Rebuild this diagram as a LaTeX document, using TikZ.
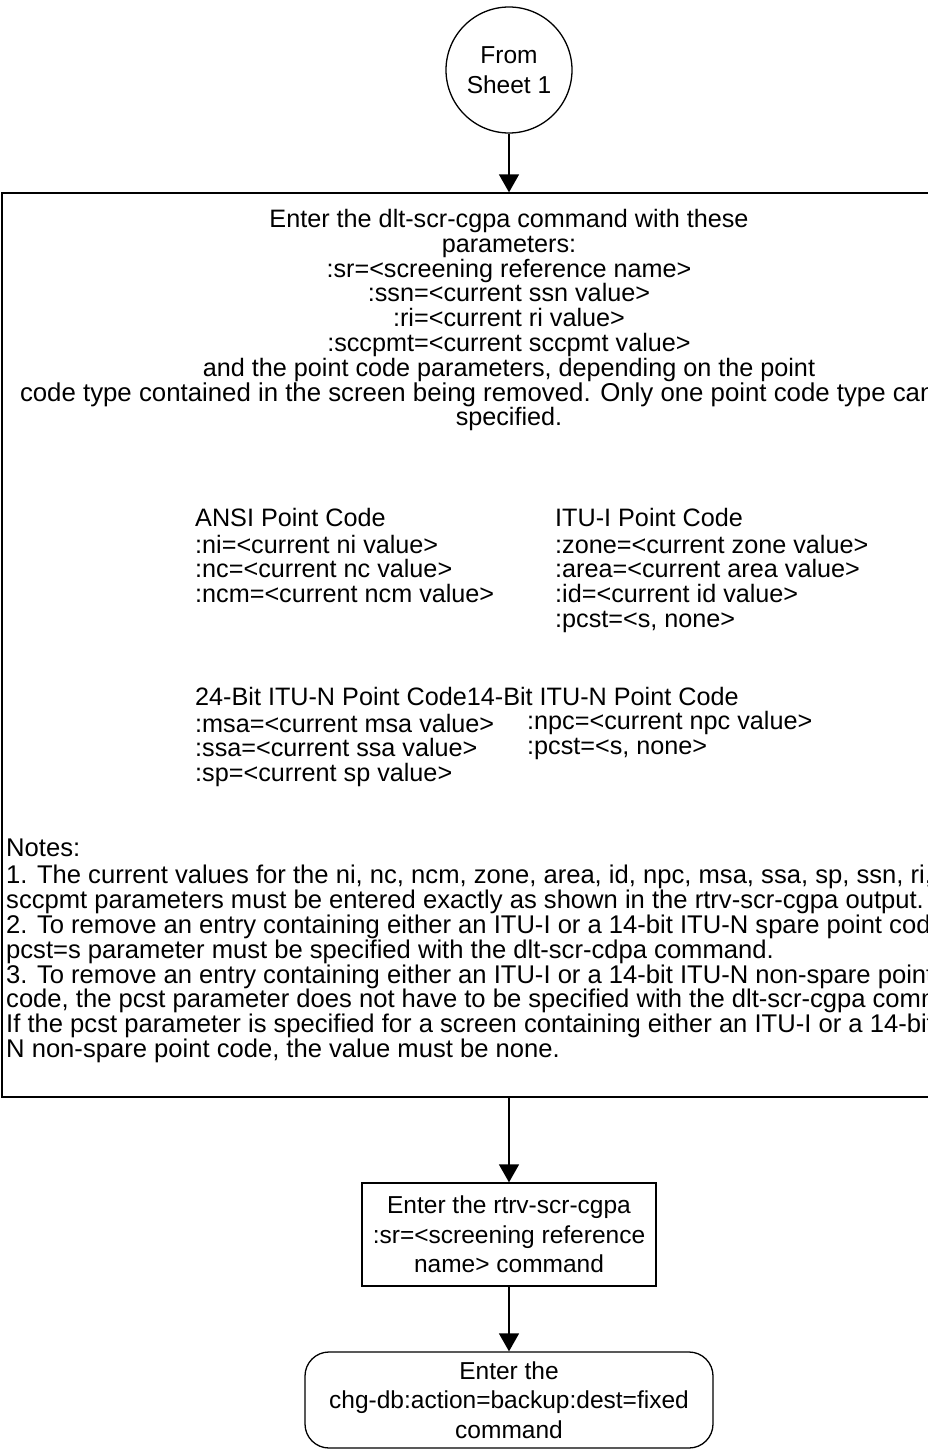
\documentclass[tikz,border=0pt]{standalone}
\usepackage{fontspec}
\setmainfont{Liberation Sans}
\usetikzlibrary{arrows.meta}

\tikzset{
  every node/.style={font=\fontsize{24.5}{29.5}\selectfont, inner sep=0pt},
  flow/.style={line width=1.4pt, -{Triangle[width=20pt,length=18pt]}},
  boxed/.style={draw, line width=1.3pt, align=center},
  inbox/.style={font=\fontsize{25.2}{24.8}\selectfont, anchor=north west, align=left},
}

\begin{document}
\begin{tikzpicture}[x=1pt,y=-1pt]
  \useasboundingbox (0,0) rectangle (928,1450);
  \clip (0,0) rectangle (928,1450);

  \node[boxed, circle, minimum size=126pt] (sheet) at (509,70) {From\\Sheet 1};
  \node[boxed, minimum width=1014pt, minimum height=904pt] (dlt) at (509,645) {};
  \node[boxed, minimum width=294pt, minimum height=103pt] (rtrv) at (509,1234.5)
    {Enter the rtrv-scr-cgpa\\:sr=<screening reference\\name> command};
  \node[boxed, rounded corners=24pt, minimum width=408pt, minimum height=96pt] (backup) at (509,1400)
    {Enter the\\chg-db:action=backup:dest=fixed\\command};

  \node[inbox, anchor=north, align=center] (intro) at (509,209)
    {\strut Enter the dlt-scr-cgpa command with these\\parameters:\\
     :sr=<screening reference name>\\:ssn=<current ssn value>\\
     :ri=<current ri value>\\:sccpmt=<current sccpmt value>\\
     and the point code parameters, depending on the point\\
     \makebox[978pt][l]{\fontsize{25.8}{24.8}\selectfont code type contained in the screen being removed. Only one point code type can be}\\
     specified.};
  \node[inbox] (ansi) at (195,508)
    {\strut ANSI Point Code\\:ni=<current ni value>\\:nc=<current nc value>\\:ncm=<current ncm value>};
  \node[inbox] (itui) at (555,508)
    {\strut ITU-I Point Code\\:zone=<current zone value>\\:area=<current area value>\\
     :id=<current id value>\\:pcst=<s, none>};
  \node[inbox] (itun) at (195,687)
    {\strut 24-Bit ITU-N Point Code14-Bit ITU-N Point Code\\:msa=<current msa value>\\
     :ssa=<current ssa value>\\:sp=<current sp value>};
  \node[inbox] (npc) at (527,711)
    {\strut :npc=<current npc value>\\:pcst=<s, none>};
  \node[inbox, font=\fontsize{25.6}{24.8}\selectfont] (notes) at (6,839)
    {\strut Notes:\\
     1. The current values for the ni, nc, ncm, zone, area, id, npc, msa, ssa, sp, ssn, ri, and\\
     sccpmt parameters must be entered exactly as shown in the rtrv-scr-cgpa output.\\
     2. To remove an entry containing either an ITU-I or a 14-bit ITU-N spare point code, the\\
     pcst=s parameter must be specified with the dlt-scr-cdpa command.\\
     3. To remove an entry containing either an ITU-I or a 14-bit ITU-N non-spare point\\
     code, the pcst parameter does not have to be specified with the dlt-scr-cgpa command.\\
     If the pcst parameter is specified for a screen containing either an ITU-I or a 14-bit ITU-\\
     N non-spare point code, the value must be none.};

  \draw[flow] (sheet) -- (dlt);
  \draw[flow] (dlt) -- (rtrv);
  \draw[flow] (rtrv) -- (backup);
\end{tikzpicture}
\end{document}
